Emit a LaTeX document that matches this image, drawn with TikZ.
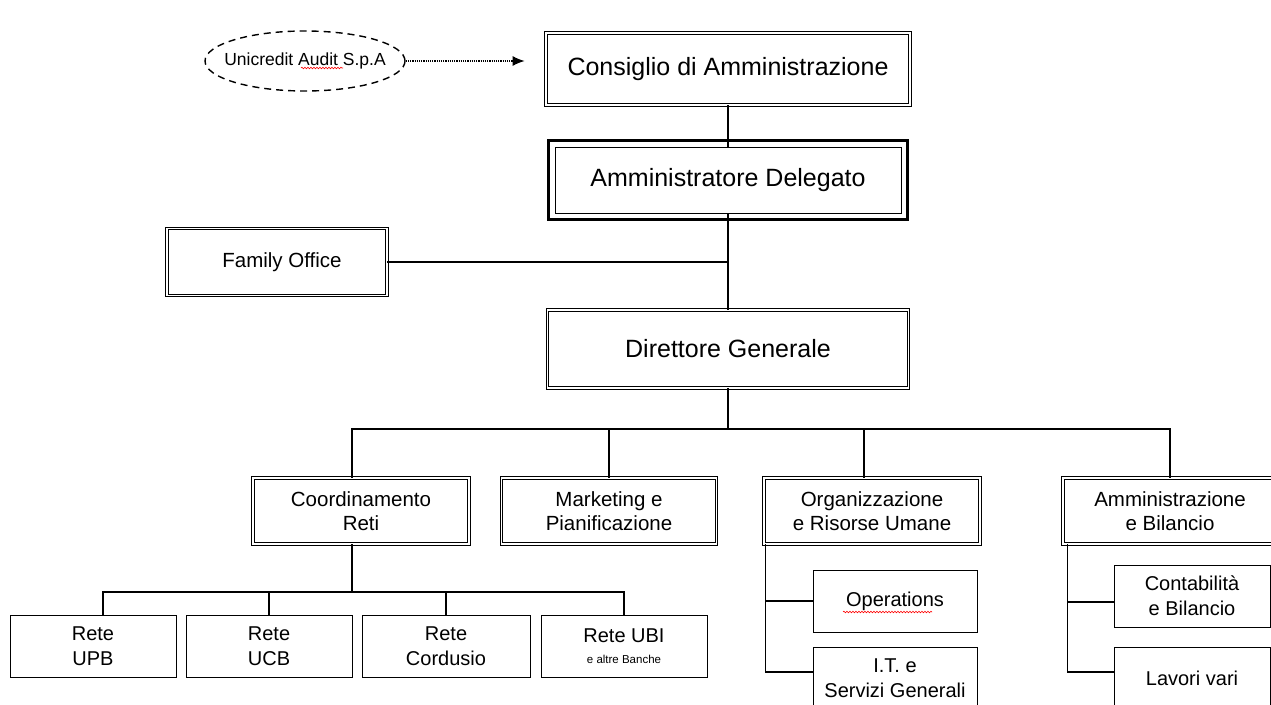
\documentclass[tikz,border=0pt]{standalone}
\usepackage{fontspec}
\setmainfont{Liberation Sans}
\usetikzlibrary{arrows.meta,shapes.geometric,decorations.pathmorphing}
\newcommand{\fs}[2]{\fontsize{#1}{#2}\selectfont}
\tikzset{
  orgbox/.style={draw, line width=0.8pt, inner sep=0pt, align=center, minimum height=62pt, font=\fs{20}{25}},
  dblbox/.style={orgbox, double, double distance=1.6pt, minimum height=66pt, font=\fs{20.5}{24}},
  link/.style={line width=1.2pt},
  spell/.style={red, line width=0.6pt, decorate, decoration={snake, amplitude=0.8pt, segment length=3pt}},
}
\begin{document}
\begin{tikzpicture}[x=1pt, y=-1pt]
    \clip (0,0) rectangle (1271,704);
    \fill[white] (0,0) rectangle (1271,704);
    % top of the chart
    \node[ellipse, draw, line width=1.4pt, dash pattern=on 7pt off 5pt, minimum width=200pt, minimum height=60pt, inner xsep=-12pt, inner ysep=0pt, font=\fs{17.5}{20}] (audit) at (305,61) {Unicredit Audit S.p.A};
    \node[dblbox, minimum width=364pt, minimum height=72pt, font=\fs{25}{30}] (cda) at (728,69) {Consiglio di Amministrazione};
    \node[orgbox, minimum width=346pt, minimum height=66pt, font=\fs{25}{30}] (ad) at (728,180) {Amministratore Delegato};
    \draw[line width=3.5pt] ([shift={(-6pt,6pt)}]ad.north west) rectangle ([shift={(6pt,-6pt)}]ad.south east);
    \node[dblbox, minimum width=220pt, minimum height=67pt, font=\fs{20.5}{24}] (fo) at (277,262) {\hspace*{10pt}Family Office};
    \node[dblbox, minimum width=361pt, minimum height=78pt, font=\fs{25}{30}] (dg) at (728,349) {Direttore Generale};
    % second level
    \node[dblbox, minimum width=216pt] (cr) at (361,511) {Coordinamento\\Reti};
    \node[dblbox, minimum width=215pt] (mp) at (609,511) {Marketing e\\Pianificazione};
    \node[dblbox, minimum width=216pt] (oru) at (872,511) {Organizzazione\\e Risorse Umane};
    \node[dblbox, minimum width=214pt] (ab) at (1170,511) {Amministrazione\\e Bilancio};
    % networks
    \node[orgbox, minimum width=166pt] (upb) at (93,646) {Rete\\UPB};
    \node[orgbox, minimum width=166pt] (ucb) at (269,646) {Rete\\UCB};
    \node[orgbox, minimum width=168pt] (cord) at (446,646) {Rete\\Cordusio};
    \node[orgbox, minimum width=166pt] (ubi) at (624,646) {Rete UBI\\[-4pt]{\fs{11.5}{13}e altre Banche}};
    % staff offices
    \node[orgbox, minimum width=164pt] (ops) at (895,601) {Operations};
    \node[orgbox, minimum width=164pt] (its) at (895,678) {I.T. e\\Servizi Generali};
    \node[orgbox, minimum width=156pt] (cont) at (1192,596) {Contabilità\\e Bilancio};
    \node[orgbox, minimum width=156pt] (lav) at (1192,678) {Lavori vari};

    \draw[densely dotted, line width=1.2pt, -{Latex[length=12pt,width=10pt]}, shorten >=21pt] (audit.east) -- (audit.east -| cda.west);
    \draw[link] (cda) -- (ad);
    \draw[link] (ad) -- (dg);
    \draw[link] (fo.east) -- (fo.east -| ad.south);
    \coordinate (bus) at (0,429);
    \coordinate (subbus) at (0,592);
    \draw[link] (dg.south) -- (dg.south |- bus);
    \draw[link] ([xshift=-9pt]cr.north) |- (bus -| ab.north) -- (ab.north);
    \draw[link] (mp.north) -- (mp.north |- bus);
    \draw[link] ([xshift=-8pt]oru.north) -- ([xshift=-8pt]oru.north |- bus);
    \draw[link] ([xshift=-9pt]cr.south) -- ([xshift=-9pt]cr.south |- subbus);
    \draw[link] ([xshift=10pt]upb.north) |- (subbus -| ubi.north) -- (ubi.north);
    \draw[link] (ucb.north) -- (ucb.north |- subbus);
    \draw[link] (cord.north) -- (cord.north |- subbus);
    \draw[link] ([xshift=2pt]oru.south west) |- (ops.west);
    \draw[link] ([xshift=2pt]oru.south west) |- ([yshift=6pt]its.west);
    \draw[link] ([xshift=5pt]ab.south west) |- ([yshift=-6pt]cont.west);
    \draw[link] ([xshift=5pt]ab.south west) |- ([yshift=6pt]lav.west);

    \draw[spell] (301,68) -- (343,68);
    \draw[spell] (843,612) -- (932,612);
\end{tikzpicture}
\end{document}
